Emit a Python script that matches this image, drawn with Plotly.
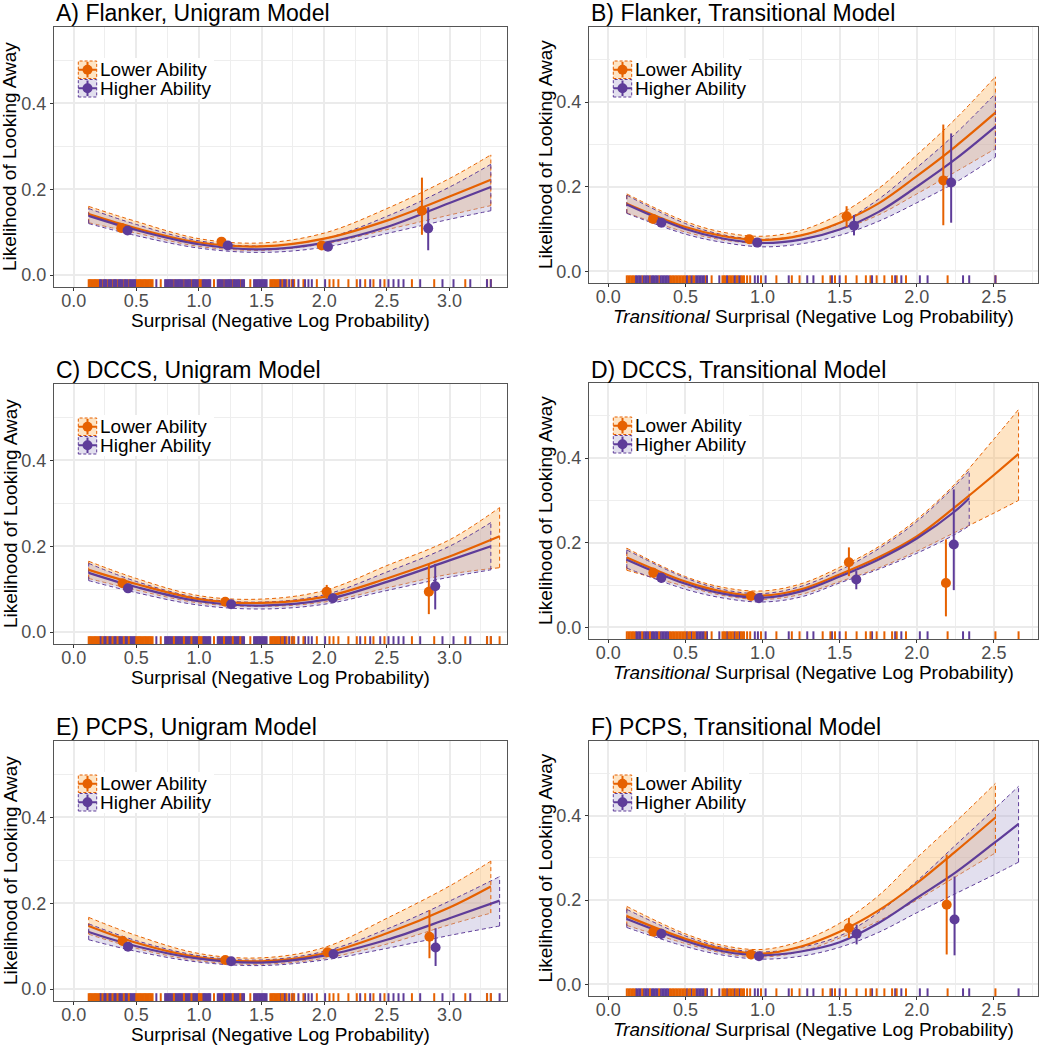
import plotly.graph_objects as go

W, H = 1046, 1050
FONT = "Liberation Sans, Arial, sans-serif"

# ---------------- text ----------------
TITLES = ["A) Flanker, Unigram Model", "B) Flanker, Transitional Model",
          "C) DCCS, Unigram Model", "D) DCCS, Transitional Model",
          "E) PCPS, Unigram Model", "F) PCPS, Transitional Model"]
GROUP_NAMES = ["Lower Ability", "Higher Ability"]
X_TITLE_UNI = "Surprisal (Negative Log Probability)"
X_TITLE_TRANS = "<i>Transitional</i> Surprisal (Negative Log Probability)"
Y_TITLE = "Likelihood of Looking Away"
UNI_TICKS = [0.0, 0.5, 1.0, 1.5, 2.0, 2.5, 3.0]
TRANS_TICKS = [0.0, 0.5, 1.0, 1.5, 2.0, 2.5]
Y_TICKS = [0.0, 0.2, 0.4]

# ---------------- fitted curves (x grids) ----------------
UNI_X = [0.12, 0.5, 1.0, 1.5, 2.0, 2.5, 3.0, 3.33]
UNI_X_EXT = [0.12, 0.5, 1.0, 1.5, 2.0, 2.5, 3.0, 3.40]
TR_X = [0.12, 0.5, 0.75, 1.0, 1.25, 1.5, 1.75, 2.0, 2.25, 2.51]
TR_X_LONG = [0.12, 0.5, 0.75, 1.0, 1.25, 1.5, 1.75, 2.0, 2.25, 2.5, 2.66]
TR_X_SHORT = [0.12, 0.5, 0.75, 1.0, 1.25, 1.5, 1.75, 2.0, 2.25, 2.34]

# Panel A (Flanker, unigram)
A_low_fit = [0.142, 0.109, 0.076, 0.067, 0.085, 0.127, 0.183, 0.222]
A_low_lo = [0.122, 0.098, 0.067, 0.058, 0.073, 0.106, 0.140, 0.162]
A_low_hi = [0.160, 0.125, 0.085, 0.075, 0.098, 0.155, 0.225, 0.280]
A_high_fit = [0.138, 0.105, 0.072, 0.060, 0.075, 0.112, 0.168, 0.205]
A_high_lo = [0.120, 0.092, 0.063, 0.053, 0.065, 0.097, 0.130, 0.150]
A_high_hi = [0.155, 0.118, 0.080, 0.068, 0.085, 0.137, 0.205, 0.258]
# Panel B (Flanker, transitional)
B_low_fit = [0.160, 0.105, 0.083, 0.074, 0.085, 0.115, 0.160, 0.225, 0.295, 0.375]
B_low_lo = [0.138, 0.093, 0.074, 0.066, 0.075, 0.098, 0.133, 0.183, 0.235, 0.290]
B_low_hi = [0.183, 0.118, 0.092, 0.083, 0.097, 0.135, 0.195, 0.275, 0.360, 0.460]
B_high_fit = [0.158, 0.100, 0.077, 0.067, 0.075, 0.099, 0.140, 0.200, 0.265, 0.342]
B_high_lo = [0.137, 0.088, 0.068, 0.058, 0.065, 0.085, 0.118, 0.162, 0.210, 0.270]
B_high_hi = [0.180, 0.113, 0.086, 0.076, 0.085, 0.114, 0.170, 0.245, 0.325, 0.420]
# Panel C (DCCS, unigram)
C_low_fit = [0.145, 0.112, 0.077, 0.068, 0.082, 0.125, 0.176, 0.223]
C_low_lo = [0.125, 0.098, 0.068, 0.060, 0.070, 0.103, 0.135, 0.150]
C_low_hi = [0.165, 0.125, 0.085, 0.077, 0.097, 0.155, 0.215, 0.290]
C_high_fit = [0.138, 0.105, 0.072, 0.062, 0.075, 0.117, 0.167, 0.200]
C_high_lo = [0.120, 0.092, 0.063, 0.054, 0.065, 0.097, 0.128, 0.145]
C_high_hi = [0.160, 0.118, 0.080, 0.070, 0.087, 0.140, 0.200, 0.255]
# Panel D (DCCS, transitional)
D_low_fit = [0.165, 0.108, 0.084, 0.075, 0.090, 0.125, 0.165, 0.215, 0.285, 0.360, 0.410]
D_low_lo = [0.135, 0.097, 0.075, 0.066, 0.078, 0.108, 0.140, 0.180, 0.225, 0.270, 0.300]
D_low_hi = [0.187, 0.120, 0.094, 0.086, 0.103, 0.142, 0.190, 0.255, 0.340, 0.445, 0.515]
D_high_fit = [0.160, 0.103, 0.079, 0.070, 0.085, 0.120, 0.160, 0.210, 0.275, 0.305]
D_high_lo = [0.140, 0.090, 0.069, 0.060, 0.072, 0.105, 0.137, 0.175, 0.220, 0.240]
D_high_hi = [0.183, 0.117, 0.089, 0.080, 0.097, 0.135, 0.185, 0.250, 0.335, 0.370]
# Panel E (PCPS, unigram)
E_low_fit = [0.147, 0.108, 0.074, 0.065, 0.083, 0.130, 0.190, 0.239]
E_low_lo = [0.128, 0.095, 0.066, 0.058, 0.072, 0.105, 0.150, 0.177]
E_low_hi = [0.167, 0.125, 0.083, 0.073, 0.097, 0.165, 0.240, 0.298]
E_high_fit = [0.133, 0.100, 0.071, 0.062, 0.078, 0.115, 0.165, 0.206]
E_high_lo = [0.115, 0.088, 0.063, 0.055, 0.068, 0.095, 0.125, 0.147]
E_high_hi = [0.152, 0.113, 0.078, 0.068, 0.088, 0.140, 0.205, 0.262]
# Panel F (PCPS, transitional)
F_low_fit = [0.162, 0.108, 0.083, 0.073, 0.090, 0.125, 0.175, 0.240, 0.315, 0.396]
F_low_lo = [0.140, 0.097, 0.074, 0.065, 0.078, 0.110, 0.150, 0.200, 0.255, 0.312]
F_low_hi = [0.185, 0.120, 0.092, 0.083, 0.103, 0.145, 0.210, 0.300, 0.385, 0.477]
F_high_fit = [0.155, 0.103, 0.078, 0.069, 0.078, 0.100, 0.145, 0.205, 0.265, 0.335, 0.381]
F_high_lo = [0.135, 0.090, 0.069, 0.060, 0.067, 0.088, 0.123, 0.170, 0.215, 0.260, 0.290]
F_high_hi = [0.178, 0.115, 0.087, 0.077, 0.088, 0.115, 0.170, 0.245, 0.330, 0.415, 0.470]

# ---------------- binned observed means (point ranges) ----------------
A_low_px = [0.38, 1.18, 1.98, 2.78]
A_low_py = [0.110, 0.078, 0.069, 0.150]
A_low_plo = [0.100, 0.070, 0.062, 0.094]
A_low_phi = [0.120, 0.086, 0.077, 0.227]
A_high_px = [0.43, 1.23, 2.03, 2.83]
A_high_py = [0.104, 0.069, 0.066, 0.109]
A_high_plo = [0.095, 0.062, 0.059, 0.058]
A_high_phi = [0.114, 0.077, 0.073, 0.158]

B_low_px = [0.29, 0.914, 1.545, 2.172]
B_low_py = [0.124, 0.076, 0.130, 0.215]
B_low_plo = [0.114, 0.069, 0.105, 0.109]
B_low_phi = [0.134, 0.083, 0.154, 0.347]
B_high_px = [0.344, 0.966, 1.593, 2.223]
B_high_py = [0.115, 0.068, 0.108, 0.210]
B_high_plo = [0.105, 0.061, 0.085, 0.115]
B_high_phi = [0.125, 0.075, 0.133, 0.326]

C_low_px = [0.39, 1.21, 2.02, 2.835]
C_low_py = [0.114, 0.071, 0.094, 0.094]
C_low_plo = [0.104, 0.064, 0.078, 0.042]
C_low_phi = [0.124, 0.078, 0.110, 0.159]
C_high_px = [0.434, 1.257, 2.069, 2.886]
C_high_py = [0.102, 0.065, 0.079, 0.107]
C_high_plo = [0.093, 0.058, 0.068, 0.053]
C_high_phi = [0.111, 0.072, 0.090, 0.159]

D_low_px = [0.292, 0.925, 1.56, 2.189]
D_low_py = [0.129, 0.074, 0.154, 0.105]
D_low_plo = [0.117, 0.067, 0.121, 0.026]
D_low_phi = [0.141, 0.081, 0.189, 0.208]
D_high_px = [0.344, 0.977, 1.608, 2.24]
D_high_py = [0.117, 0.069, 0.113, 0.196]
D_high_plo = [0.105, 0.062, 0.090, 0.088]
D_high_phi = [0.129, 0.076, 0.133, 0.326]

E_low_px = [0.39, 1.21, 2.026, 2.84]
E_low_py = [0.112, 0.068, 0.086, 0.122]
E_low_plo = [0.102, 0.061, 0.077, 0.072]
E_low_phi = [0.122, 0.075, 0.095, 0.184]
E_high_px = [0.434, 1.257, 2.074, 2.889]
E_high_py = [0.099, 0.065, 0.082, 0.097]
E_high_plo = [0.090, 0.058, 0.073, 0.054]
E_high_phi = [0.108, 0.072, 0.091, 0.142]

F_low_px = [0.292, 0.925, 1.56, 2.194]
F_low_py = [0.125, 0.071, 0.134, 0.189]
F_low_plo = [0.115, 0.064, 0.110, 0.071]
F_low_phi = [0.135, 0.078, 0.158, 0.308]
F_high_px = [0.344, 0.977, 1.61, 2.245]
F_high_py = [0.120, 0.067, 0.120, 0.154]
F_high_plo = [0.108, 0.060, 0.095, 0.069]
F_high_phi = [0.132, 0.074, 0.142, 0.256]

# ---------------- rug values (item surprisal) ----------------
UNI_RUG_LOW = [0.12, 0.13, 0.14, 0.15, 0.16, 0.17, 0.18, 0.19, 0.20, 0.23, 0.27, 0.31,
               0.35, 0.40, 0.44, 0.50, 0.51, 0.52, 0.53, 0.54, 0.55, 0.56, 0.57, 0.58,
               0.59, 0.60, 0.61, 0.62, 0.63, 0.695, 0.80, 0.88, 0.94, 1.00, 1.01, 1.02,
               1.12, 1.20, 1.27, 1.33, 1.41, 1.57, 1.58, 1.59, 1.60, 1.61, 1.62, 1.63,
               1.64, 1.66, 1.67, 1.70, 1.74, 1.76, 1.834, 1.941, 2.042, 2.074, 2.113,
               2.193, 2.26, 2.327, 2.393, 2.481, 2.70, 2.878, 3.126, 3.30]
UNI_RUG_HIGH = [0.21, 0.22, 0.24, 0.25, 0.26, 0.28, 0.29, 0.30, 0.32, 0.33, 0.34, 0.36,
                0.37, 0.38, 0.39, 0.41, 0.42, 0.43, 0.45, 0.46, 0.47, 0.48, 0.49, 0.66,
                0.73, 0.74, 0.75, 0.76, 0.77, 0.78, 0.79, 0.81, 0.82, 0.83, 0.84, 0.85,
                0.86, 0.87, 0.89, 0.90, 0.91, 0.92, 0.93, 0.95, 0.96, 0.97, 0.98, 0.99,
                1.03, 1.04, 1.05, 1.06, 1.07, 1.08, 1.09, 1.15, 1.16, 1.17, 1.18, 1.19,
                1.21, 1.22, 1.23, 1.24, 1.25, 1.26, 1.28, 1.29, 1.30, 1.31, 1.32, 1.34,
                1.35, 1.36, 1.44, 1.45, 1.46, 1.47, 1.48, 1.49, 1.50, 1.51, 1.52, 1.53,
                1.54, 1.65, 1.68, 1.69, 1.72, 1.75, 1.794, 1.847, 1.874, 1.901, 2.007,
                2.287, 2.367, 2.447, 2.513, 2.553, 2.593, 2.633, 2.766, 2.944, 3.032,
                3.166, 3.299]
TR_RUG_LOW = [0.12, 0.13, 0.14, 0.15, 0.16, 0.17, 0.22, 0.27, 0.33, 0.40, 0.41, 0.42,
              0.43, 0.44, 0.45, 0.46, 0.47, 0.48, 0.49, 0.50, 0.52, 0.53, 0.55, 0.56,
              0.63, 0.67, 0.74, 0.75, 0.76, 0.78, 0.79, 0.80, 0.81, 0.83, 0.84, 0.86,
              0.87, 0.88, 0.90, 0.92, 0.99, 1.09, 1.19, 1.24, 1.39, 1.44, 1.47, 1.54,
              1.61, 1.67, 1.70, 1.74, 1.79, 1.84, 1.87, 1.93, 2.20]
TR_RUG_HIGH = [0.18, 0.19, 0.20, 0.21, 0.23, 0.24, 0.25, 0.26, 0.28, 0.29, 0.30, 0.31,
               0.32, 0.34, 0.35, 0.36, 0.37, 0.38, 0.39, 0.51, 0.54, 0.57, 0.58, 0.59,
               0.60, 0.61, 0.62, 0.64, 0.72, 0.77, 0.82, 0.85, 0.95, 0.97, 1.02, 1.17,
               1.29, 1.33, 1.45, 1.50, 1.71, 1.86, 1.90, 2.02, 2.07, 2.30, 2.34]
A_rug_low_extra, A_rug_high_extra = [3.33], [3.33]
B_rug_low_extra, B_rug_high_extra = [2.51], [2.51]
C_rug_low_extra, C_rug_high_extra = [3.33, 3.40], [3.33]
D_rug_low_extra, D_rug_high_extra = [2.51, 2.66], []
E_rug_low_extra, E_rug_high_extra = [3.33], [3.33, 3.40]
F_rug_low_extra, F_rug_high_extra = [2.51], [2.66]

# ---------------- style ----------------
COLORS = ["#E66101", "#5E3C99"]
FILLS = ["rgba(253,184,99,0.38)", "rgba(178,171,210,0.38)"]
Y_RANGE = [-0.0275, 0.5775]
UNI_RANGE = [-0.157, 3.459]
TRANS_RANGE = [-0.125, 2.786]
# plot-area pixel boxes (left, top, right, bottom)
PANELS_PX = [(54, 27, 507, 287), (589, 27, 1038, 283),
             (54, 384, 507, 644), (589, 383, 1038, 639),
             (54, 741, 507, 1001), (589, 741, 1038, 996)]
TITLE_Y_PX = [13, 13, 370, 370, 727, 727]
ORANGE_RUG_ON_TOP = [False, False, True, True, True, True]


def px_x(v):
    return v / W


def px_y(v):
    return 1 - v / H


panels = [
    ("uni", [(UNI_X, A_low_fit, A_low_lo, A_low_hi), (UNI_X, A_high_fit, A_high_lo, A_high_hi)],
     [(A_low_px, A_low_py, A_low_plo, A_low_phi), (A_high_px, A_high_py, A_high_plo, A_high_phi)],
     [UNI_RUG_LOW + A_rug_low_extra, UNI_RUG_HIGH + A_rug_high_extra]),
    ("trans", [(TR_X, B_low_fit, B_low_lo, B_low_hi), (TR_X, B_high_fit, B_high_lo, B_high_hi)],
     [(B_low_px, B_low_py, B_low_plo, B_low_phi), (B_high_px, B_high_py, B_high_plo, B_high_phi)],
     [TR_RUG_LOW + B_rug_low_extra, TR_RUG_HIGH + B_rug_high_extra]),
    ("uni", [(UNI_X_EXT, C_low_fit, C_low_lo, C_low_hi), (UNI_X, C_high_fit, C_high_lo, C_high_hi)],
     [(C_low_px, C_low_py, C_low_plo, C_low_phi), (C_high_px, C_high_py, C_high_plo, C_high_phi)],
     [UNI_RUG_LOW + C_rug_low_extra, UNI_RUG_HIGH + C_rug_high_extra]),
    ("trans", [(TR_X_LONG, D_low_fit, D_low_lo, D_low_hi), (TR_X_SHORT, D_high_fit, D_high_lo, D_high_hi)],
     [(D_low_px, D_low_py, D_low_plo, D_low_phi), (D_high_px, D_high_py, D_high_plo, D_high_phi)],
     [TR_RUG_LOW + D_rug_low_extra, TR_RUG_HIGH + D_rug_high_extra]),
    ("uni", [(UNI_X, E_low_fit, E_low_lo, E_low_hi), (UNI_X_EXT, E_high_fit, E_high_lo, E_high_hi)],
     [(E_low_px, E_low_py, E_low_plo, E_low_phi), (E_high_px, E_high_py, E_high_plo, E_high_phi)],
     [UNI_RUG_LOW + E_rug_low_extra, UNI_RUG_HIGH + E_rug_high_extra]),
    ("trans", [(TR_X, F_low_fit, F_low_lo, F_low_hi), (TR_X_LONG, F_high_fit, F_high_lo, F_high_hi)],
     [(F_low_px, F_low_py, F_low_plo, F_low_phi), (F_high_px, F_high_py, F_high_plo, F_high_phi)],
     [TR_RUG_LOW + F_rug_low_extra, TR_RUG_HIGH + F_rug_high_extra]),
]

fig = go.Figure()
shapes = []
annotations = []
rug_top = Y_RANGE[0] + 0.03 * (Y_RANGE[1] - Y_RANGE[0])
DASH = "4px,3px"

for i, (kind, fits, pts, rugs) in enumerate(panels):
    n = i + 1
    xa = "x" if n == 1 else f"x{n}"
    ya = "y" if n == 1 else f"y{n}"
    common = dict(xaxis=xa, yaxis=ya, showlegend=False, hoverinfo="skip")

    # ribbons (lower then upper filled to it)
    for g in range(2):
        xs, fit, lo, hi = fits[g]
        fig.add_trace(go.Scatter(x=xs, y=lo, mode="lines",
                                 line=dict(color=COLORS[g], width=1, dash=DASH, shape="spline"),
                                 **common))
        fig.add_trace(go.Scatter(x=xs, y=hi, mode="lines", fill="tonexty", fillcolor=FILLS[g],
                                 line=dict(color=COLORS[g], width=1, dash=DASH, shape="spline"),
                                 **common))
    # ribbon end edges
    for g in range(2):
        xs, fit, lo, hi = fits[g]
        fig.add_trace(go.Scatter(x=[xs[0], xs[0], None, xs[-1], xs[-1]],
                                 y=[lo[0], hi[0], None, lo[-1], hi[-1]], mode="lines",
                                 line=dict(color=COLORS[g], width=1, dash=DASH), **common))
    # fitted lines
    for g in range(2):
        xs, fit, lo, hi = fits[g]
        fig.add_trace(go.Scatter(x=xs, y=fit, mode="lines",
                                 line=dict(color=COLORS[g], width=2.2, shape="spline"), **common))
    # rugs
    order = [1, 0] if ORANGE_RUG_ON_TOP[i] else [0, 1]
    for g in order:
        rx, ry = [], []
        for v in rugs[g]:
            rx += [v, v, None]
            ry += [Y_RANGE[0], rug_top, None]
        fig.add_trace(go.Scatter(x=rx, y=ry, mode="lines",
                                 line=dict(color=COLORS[g], width=2), **common))
    # point ranges
    for g in range(2):
        px_, py_, plo, phi = pts[g]
        fig.add_trace(go.Scatter(
            x=px_, y=py_, mode="markers",
            marker=dict(color=COLORS[g], size=10),
            error_y=dict(type="data", symmetric=False,
                         array=[h - y for h, y in zip(phi, py_)],
                         arrayminus=[y - l for l, y in zip(plo, py_)],
                         color=COLORS[g], thickness=2, width=0),
            **common))

    L, T, R, B = PANELS_PX[i]
    xrange_ = UNI_RANGE if kind == "uni" else TRANS_RANGE
    ticks = UNI_TICKS if kind == "uni" else TRANS_TICKS
    xkey = "xaxis" if n == 1 else f"xaxis{n}"
    ykey = "yaxis" if n == 1 else f"yaxis{n}"
    axis_common = dict(showline=True, linecolor="#555555", linewidth=1.2, mirror=True,
                       ticks="outside", ticklen=3, tickcolor="#333333", tickwidth=1,
                       tickfont=dict(size=18, color="#4D4D4D", family=FONT),
                       showgrid=True, gridcolor="#EBEBEB", gridwidth=1.6, zeroline=False,
                       tickformat=".1f", fixedrange=True)
    fig.update_layout(**{
        xkey: dict(domain=[px_x(L), px_x(R)], range=xrange_, anchor=ya,
                   tickmode="array", tickvals=ticks, ticklabelstandoff=-6,
                   minor=dict(showgrid=True, gridcolor="#EEEEEE", gridwidth=0.8,
                              dtick=0.25, tick0=0, ticks=""),
                   **axis_common),
        ykey: dict(domain=[px_y(B), px_y(T)], range=Y_RANGE, anchor=xa,
                   tickmode="array", tickvals=Y_TICKS,
                   minor=dict(showgrid=True, gridcolor="#EEEEEE", gridwidth=0.8,
                              dtick=0.1, tick0=0, ticks=""),
                   **axis_common),
    })

    # panel title
    annotations.append(dict(text=TITLES[i], x=px_x(L), y=px_y(TITLE_Y_PX[i]), xref="paper",
                            yref="paper", xanchor="left", yanchor="middle", showarrow=False,
                            font=dict(size=23, color="black", family=FONT)))
    # axis titles
    annotations.append(dict(text=X_TITLE_UNI if kind == "uni" else X_TITLE_TRANS,
                            x=px_x((L + R) / 2), y=px_y(B + 33), xref="paper", yref="paper",
                            xanchor="center", yanchor="middle", showarrow=False,
                            font=dict(size=19, color="black", family=FONT)))
    annotations.append(dict(text=Y_TITLE, x=px_x(L - 44), y=px_y((T + B) / 2),
                            xref="paper", yref="paper", xanchor="center", yanchor="middle",
                            textangle=-90, showarrow=False,
                            font=dict(size=19, color="black", family=FONT)))

    # legend (drawn as key glyphs + text)
    shapes.append(dict(type="rect", xref="paper", yref="paper", layer="above",
                       x0=px_x(L + 21), x1=px_x(L + 160), y0=px_y(T + 31), y1=px_y(T + 72),
                       fillcolor="white", line=dict(width=0)))
    for g in range(2):
        k_top = T + 34 + g * 18.5
        k_bot = k_top + 17.5
        k_l, k_r = L + 24.3, L + 42.7
        cy = (k_top + k_bot) / 2
        cx = (k_l + k_r) / 2
        shapes.append(dict(type="rect", xref="paper", yref="paper", layer="above",
                           x0=px_x(k_l), x1=px_x(k_r), y0=px_y(k_bot), y1=px_y(k_top),
                           fillcolor=FILLS[g], line=dict(color=COLORS[g], width=1, dash="3px,2px")))
        shapes.append(dict(type="line", xref="paper", yref="paper", layer="above",
                           x0=px_x(k_l), x1=px_x(k_r), y0=px_y(cy), y1=px_y(cy),
                           line=dict(color=COLORS[g], width=2)))
        shapes.append(dict(type="line", xref="paper", yref="paper", layer="above",
                           x0=px_x(cx), x1=px_x(cx), y0=px_y(k_bot - 1), y1=px_y(k_top + 1),
                           line=dict(color=COLORS[g], width=2)))
        shapes.append(dict(type="circle", xref="paper", yref="paper", layer="above",
                           x0=px_x(cx - 5), x1=px_x(cx + 5), y0=px_y(cy + 5), y1=px_y(cy - 5),
                           fillcolor=COLORS[g], line=dict(color=COLORS[g], width=0)))
        annotations.append(dict(text=GROUP_NAMES[g], x=px_x(k_r + 0.8), y=px_y(cy),
                                xref="paper", yref="paper", xanchor="left", yanchor="middle",
                                showarrow=False, font=dict(size=19, color="black", family=FONT)))

fig.update_layout(width=W, height=H, margin=dict(l=0, r=0, t=0, b=0, autoexpand=False),
                  paper_bgcolor="white", plot_bgcolor="white", showlegend=False,
                  font=dict(family=FONT), shapes=shapes, annotations=annotations)

fig.write_html("out.html", config={"displayModeBar": False},
               post_script="document.body.style.margin='0px';"
                           "document.body.style.overflow='hidden';")
